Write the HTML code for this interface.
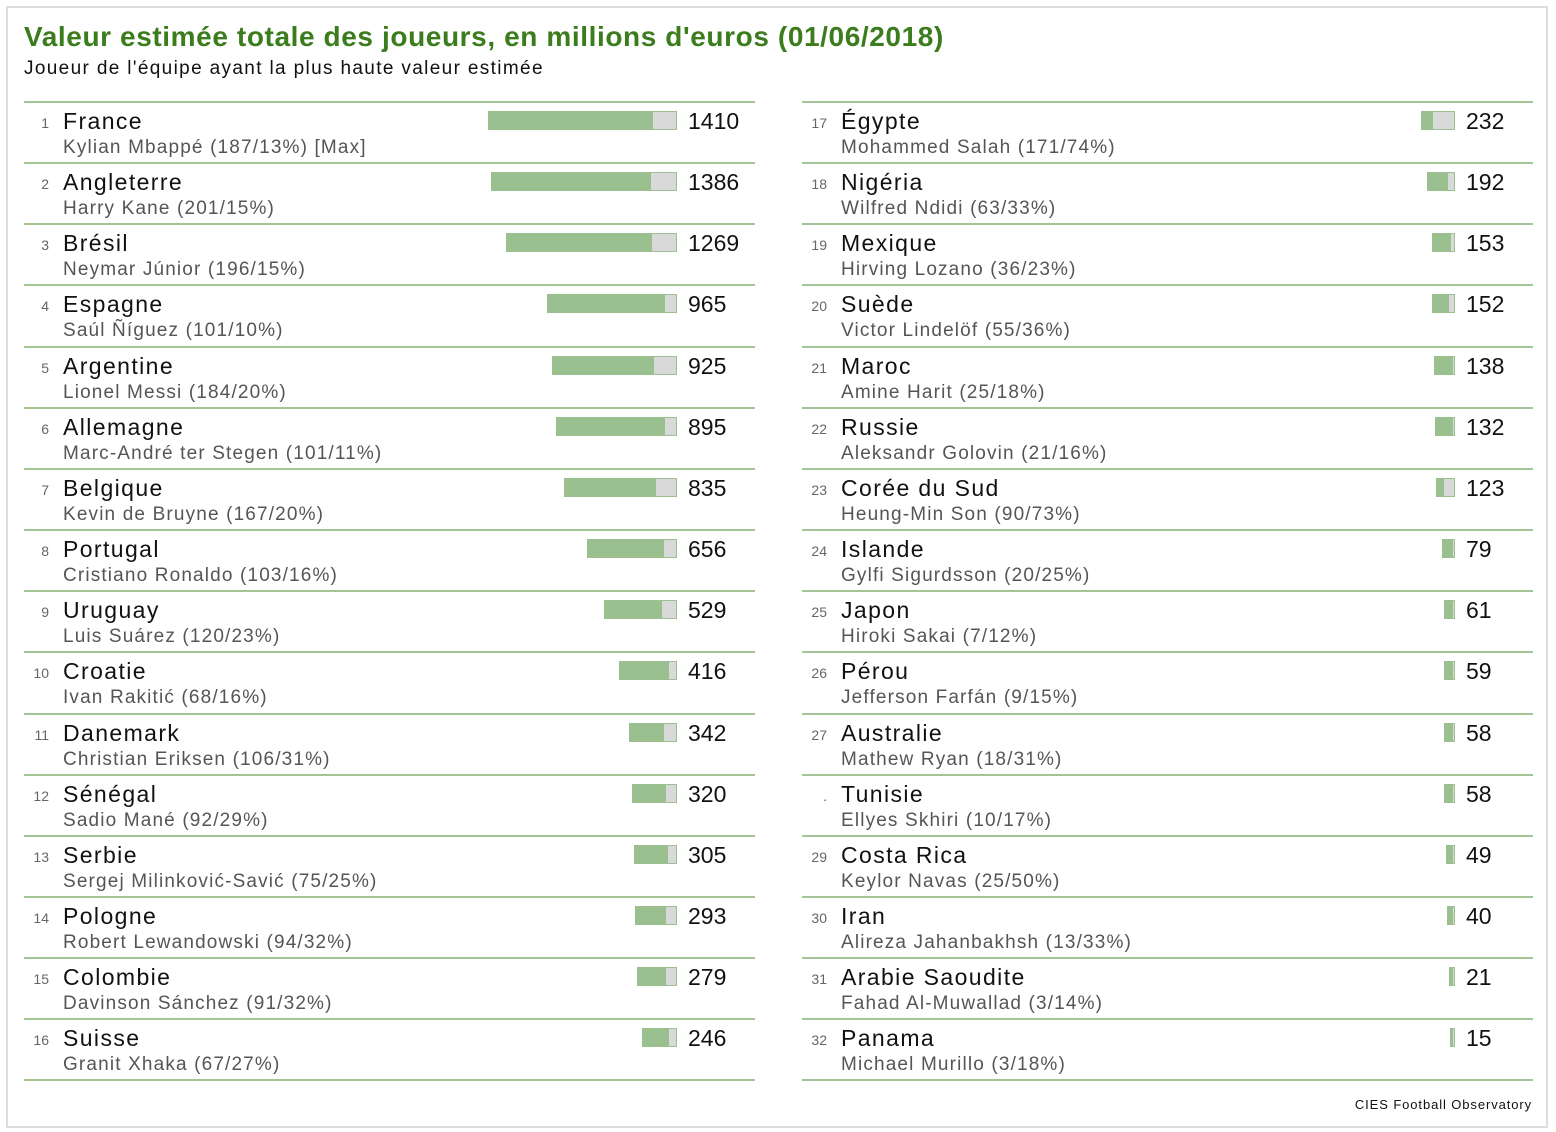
<!DOCTYPE html>
<html><head><meta charset="utf-8"><style>
body{margin:0;width:1556px;height:1132px;background:#fff;font-family:"Liberation Sans",sans-serif;position:relative;overflow:hidden}
.frame{position:absolute;left:6px;top:6px;width:1542px;height:1122px;border:2px solid #ddd;box-sizing:border-box}
.t{position:absolute;left:24px;top:21px;font-size:28px;color:#3b7d1d;font-weight:bold;letter-spacing:0.6px}
.s{position:absolute;left:24px;top:58px;font-size:19px;color:#111;letter-spacing:1.35px}
.line{position:absolute;height:2px;background:#a3c596;width:731px}
.rk{position:absolute;font-size:14px;color:#666;text-align:right;width:30px}
.cn{position:absolute;font-size:23px;color:#111;letter-spacing:1.4px}
.pl{position:absolute;font-size:19px;color:#555;letter-spacing:1.15px}
.bar{position:absolute;height:19px;background:#9bc08f}
.bar i{position:absolute;right:0;top:0;height:17px;background:#d9d9d9;border:1px solid #9bc08f;box-sizing:content-box}
.v{position:absolute;font-size:23px;color:#111}
.src{position:absolute;right:24px;top:1097px;font-size:13px;color:#111;letter-spacing:0.9px}
</style></head><body>
<div class="frame"></div>
<div class="t">Valeur estimée totale des joueurs, en millions d'euros (01/06/2018)</div>
<div class="s">Joueur de l'équipe ayant la plus haute valeur estimée</div>
<div class="src">CIES Football Observatory</div>
<div id="c"></div>
<script>
var d=[
["1","France","Kylian Mbappé (187/13%) [Max]",1410,187],
["2","Angleterre","Harry Kane (201/15%)",1386,201],
["3","Brésil","Neymar Júnior (196/15%)",1269,196],
["4","Espagne","Saúl Ñíguez (101/10%)",965,101],
["5","Argentine","Lionel Messi (184/20%)",925,184],
["6","Allemagne","Marc-André ter Stegen (101/11%)",895,101],
["7","Belgique","Kevin de Bruyne (167/20%)",835,167],
["8","Portugal","Cristiano Ronaldo (103/16%)",656,103],
["9","Uruguay","Luis Suárez (120/23%)",529,120],
["10","Croatie","Ivan Rakitić (68/16%)",416,68],
["11","Danemark","Christian Eriksen (106/31%)",342,106],
["12","Sénégal","Sadio Mané (92/29%)",320,92],
["13","Serbie","Sergej Milinković-Savić (75/25%)",305,75],
["14","Pologne","Robert Lewandowski (94/32%)",293,94],
["15","Colombie","Davinson Sánchez (91/32%)",279,91],
["16","Suisse","Granit Xhaka (67/27%)",246,67],
["17","Égypte","Mohammed Salah (171/74%)",232,171],
["18","Nigéria","Wilfred Ndidi (63/33%)",192,63],
["19","Mexique","Hirving Lozano (36/23%)",153,36],
["20","Suède","Victor Lindelöf (55/36%)",152,55],
["21","Maroc","Amine Harit (25/18%)",138,25],
["22","Russie","Aleksandr Golovin (21/16%)",132,21],
["23","Corée du Sud","Heung-Min Son (90/73%)",123,90],
["24","Islande","Gylfi Sigurdsson (20/25%)",79,20],
["25","Japon","Hiroki Sakai (7/12%)",61,7],
["26","Pérou","Jefferson Farfán (9/15%)",59,9],
["27","Australie","Mathew Ryan (18/31%)",58,18],
[".","Tunisie","Ellyes Skhiri (10/17%)",58,10],
["29","Costa Rica","Keylor Navas (25/50%)",49,25],
["30","Iran","Alireza Jahanbakhsh (13/33%)",40,13],
["31","Arabie Saoudite","Fahad Al-Muwallad (3/14%)",21,3],
["32","Panama","Michael Murillo (3/18%)",15,3]];
var h="";
for(var i=0;i<32;i++){var r=d[i],col=i<16?0:1,k=i%16,ox=col?778:0,y=101+k*61.15;
h+='<div class="line" style="left:'+(24+ox)+'px;top:'+y+'px"></div>';
h+='<div class="rk" style="left:'+(19+ox)+'px;top:'+(y+14)+'px">'+r[0]+'</div>';
h+='<div class="cn" style="left:'+(63+ox)+'px;top:'+(y+7)+'px">'+r[1]+'</div>';
h+='<div class="pl" style="left:'+(63+ox)+'px;top:'+(y+36)+'px">'+r[2]+'</div>';
var w=3+r[3]*0.132,g=Math.max(r[4]*0.132,1);
h+='<div class="bar" style="left:'+(677+ox-w)+'px;top:'+(y+10)+'px;width:'+w+'px"><i style="width:'+Math.max(g-2,1)+'px"></i></div>';
h+='<div class="v" style="left:'+(688+ox)+'px;top:'+(y+7)+'px">'+r[3]+'</div>';
if(k==15)h+='<div class="line" style="left:'+(24+ox)+'px;top:'+(y+61.15)+'px"></div>';}
document.getElementById("c").innerHTML=h;
</script>
</body></html>
